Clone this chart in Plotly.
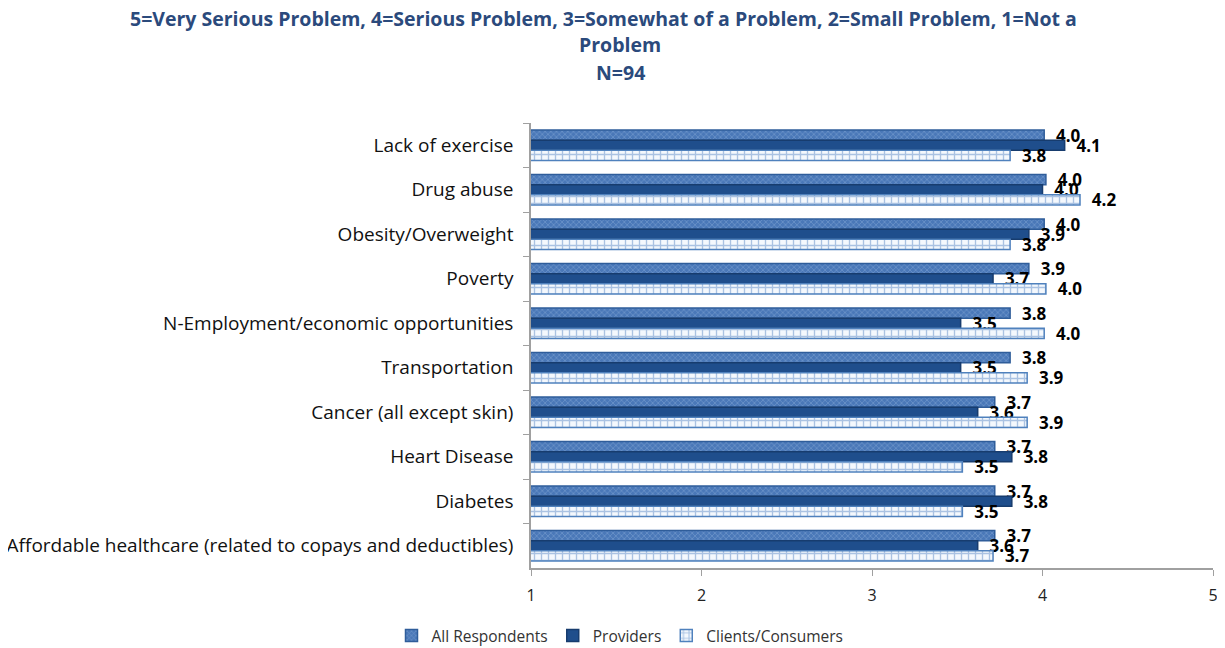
import plotly.graph_objects as go

categories = ["Lack of exercise", "Drug abuse", "Obesity/Overweight", "Poverty",
              "N-Employment/economic opportunities", "Transportation",
              "Cancer (all except skin)", "Heart Disease", "Diabetes",
              "Affordable healthcare (related to copays and deductibles)"]
all_resp = [4.01, 4.02, 4.01, 3.92, 3.81, 3.81, 3.72, 3.72, 3.72, 3.72]
providers = [4.13, 4.00, 3.92, 3.71, 3.52, 3.52, 3.62, 3.82, 3.82, 3.62]
clients = [3.81, 4.22, 3.81, 4.02, 4.01, 3.91, 3.91, 3.53, 3.53, 3.71]
x_ticks = [1, 2, 3, 4, 5]
title_lines = ["5=Very Serious Problem, 4=Serious Problem, 3=Somewhat of a Problem, 2=Small Problem, 1=Not a",
               "Problem", "N=94"]

# page body has an 8px margin, so the figure is 8px smaller and all positions shift by 8
OFF = 8
W, H = 1225 - OFF, 648 - OFF
L, R, T, B = 531 - OFF, 12, 123 - OFF, 80
PW, PH = W - L - R, H - T - B


def px_x(px):
    return (px - OFF - L) / PW


def px_y(py):
    return (H - B - (py - OFF)) / PH


fig = go.Figure()
lab_font = dict(family="Open Sans", size=17, color="black", weight="bold")
common = dict(orientation="h", texttemplate="\u00a0\u00a0%{x:.1f}", textposition="outside",
              textfont=lab_font, cliponaxis=False, constraintext="none")
fig.add_trace(go.Bar(
    y=categories, x=all_resp, name="All Respondents",
    marker=dict(color="#4F7FBE", line=dict(color="#2F5D9A", width=1.5),
                pattern=dict(shape="x", fgcolor="#9DB8DD", bgcolor="#4A78B8", size=4, solidity=0.3)),
    **common))
fig.add_trace(go.Bar(
    y=categories, x=providers, name="Providers",
    marker=dict(color="#1F4E8C", line=dict(color="#173C6E", width=1.5)),
    **common))
fig.add_trace(go.Bar(
    y=categories, x=clients, name="Clients/Consumers",
    marker=dict(color="white", line=dict(color="#4F81BD", width=1.5),
                pattern=dict(shape="+", fgcolor="#5F8CC8", bgcolor="#F4F8FD", size=7, solidity=0.35)),
    **common))

title_pos = [(603, 18), (620, 45), (620, 72)]
for txt, (cx, cy) in zip(title_lines, title_pos):
    fig.add_annotation(text=txt, xref="paper", yref="paper",
                       x=px_x(cx), y=px_y(cy), xanchor="center", yanchor="middle",
                       showarrow=False, align="center",
                       font=dict(family="Open Sans", size=19.5, color="#2B4A7C", weight="bold"))

fig.update_layout(
    width=W, height=H,
    paper_bgcolor="white", plot_bgcolor="white",
    margin=dict(l=L, r=R, t=T, b=B, autoexpand=False),
    barmode="group", bargap=0.32, bargroupgap=0.0,
    legend=dict(orientation="h", x=px_x(620), xanchor="center",
                y=px_y(636), yanchor="middle",
                font=dict(family="Open Sans", size=15.5, color="#333333"),
                itemwidth=30, traceorder="normal"),
    font=dict(family="Open Sans"),
)
fig.update_xaxes(range=[1, 5], tickvals=x_ticks, showline=True, linecolor="#A0A0A0", linewidth=1.5,
                 ticks="outside", tickcolor="#A0A0A0", ticklen=6, showgrid=False, zeroline=False,
                 automargin=False, ticklabelstandoff=6,
                 tickfont=dict(family="Open Sans", size=16, color="#222222"))
fig.update_yaxes(autorange="reversed", showline=True, linecolor="#A0A0A0", linewidth=1.5,
                 ticks="outside", tickson="boundaries", tickcolor="#A0A0A0", ticklen=6,
                 showgrid=False, automargin=False, ticklabelstandoff=12,
                 tickfont=dict(family="Open Sans", size=19, color="#111111"))

fig.write_html("out.html")
